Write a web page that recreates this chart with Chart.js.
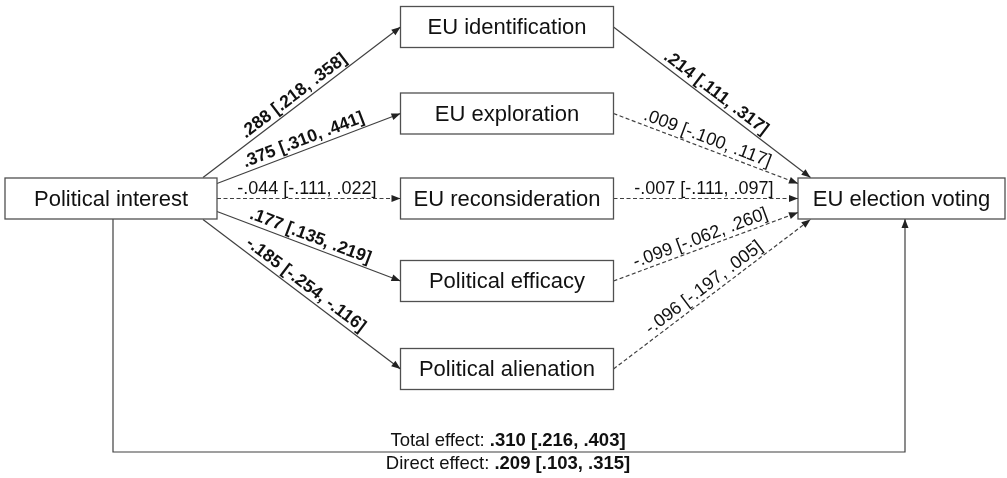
<!DOCTYPE html>
<html>
<head>
<meta charset="utf-8">
<script src="https://cdn.jsdelivr.net/npm/chart.js@4/dist/chart.umd.min.js"></script>
<style>
  html, body { margin: 0; padding: 0; background: #fff; }
  canvas { display: block; }
</style>
</head>
<body>
<canvas id="diagram" width="1007" height="478"></canvas>
<script>
// path model data
const predictor = 'Political interest';
const mediators = ['EU identification', 'EU exploration', 'EU reconsideration', 'Political efficacy', 'Political alienation'];
const outcome = 'EU election voting';

// a paths: predictor -> mediator
const aEst  = [0.288, 0.375, -0.044, 0.177, -0.185];
const aLow  = [0.218, 0.310, -0.111, 0.135, -0.254];
const aHigh = [0.358, 0.441, 0.022, 0.219, -0.116];

// b paths: mediator -> outcome (as printed)
const bEst  = [0.214, 0.009, -0.007, -0.099, -0.096];
const bLow  = [0.111, -0.100, -0.111, -0.062, -0.197];
const bHigh = [0.317, 0.117, 0.097, 0.260, 0.005];

const totalEffect  = [0.310, 0.216, 0.403];
const directEffect = [0.209, 0.103, 0.315];

// layout (diagram units = pixels of the 1007x478 page)
const colX = { left: 111, mid: 507, right: 901.5 };
const midRowY = [27, 113.5, 198.5, 281, 369];
const boxH = 41;
const boxW = { left: 212, mid: 213, right: 207 };
const startOffsets = [[92, -21], [106, -15], [106, 0], [106, 13], [92, 21]];
const endOffsets = [[-91, -21], [-103.5, -15], [-103.5, 0], [-103.5, 14], [-91, 21]];
const loopY = 452;
const loopStartX = 113;
const loopEndX = 905;

const fmt = v => v.toFixed(3).replace(/^(-?)0\./, '$1.');
const pathText = (e, l, h) => fmt(e) + ' [' + fmt(l) + ', ' + fmt(h) + ']';
const isSig = (l, h) => (l > 0 && h > 0) || (l < 0 && h < 0);

const LINE = '#404040';
const rowY = 198.5;
const FONT = '"Liberation Sans", Arial, sans-serif';

const nodes = [{ name: predictor, x: colX.left, y: rowY, w: boxW.left }]
  .concat(mediators.map((m, i) => ({ name: m, x: colX.mid, y: midRowY[i], w: boxW.mid })))
  .concat([{ name: outcome, x: colX.right, y: rowY, w: boxW.right }]);

const edges = [];
mediators.forEach((m, i) => {
  edges.push({
    from: [colX.left + startOffsets[i][0], rowY + startOffsets[i][1]],
    to: [colX.mid - boxW.mid / 2, midRowY[i]],
    text: pathText(aEst[i], aLow[i], aHigh[i]),
    sig: isSig(aLow[i], aHigh[i])
  });
});
mediators.forEach((m, i) => {
  edges.push({
    from: [colX.mid + boxW.mid / 2, midRowY[i]],
    to: [colX.right + endOffsets[i][0], rowY + endOffsets[i][1]],
    text: pathText(bEst[i], bLow[i], bHigh[i]),
    sig: isSig(bLow[i], bHigh[i])
  });
});

const datasets = edges.map(e => ({
  type: 'line',
  data: [{ x: e.from[0], y: e.from[1] }, { x: e.to[0], y: e.to[1] }],
  borderColor: LINE,
  borderWidth: 1.2,
  borderDash: e.sig ? [] : [4, 2.5],
  pointRadius: 0,
  arrow: true,
  label: e.text,
  bold: e.sig
}));

// total / direct effect connector
datasets.push({
  type: 'line',
  data: [
    { x: loopStartX, y: rowY + boxH / 2 },
    { x: loopStartX, y: loopY },
    { x: loopEndX, y: loopY },
    { x: loopEndX, y: rowY + boxH / 2 }
  ],
  borderColor: LINE,
  borderWidth: 1.2,
  pointRadius: 0,
  arrow: true
});

const diagramPlugin = {
  id: 'diagram',
  beforeDatasetsDraw(chart) {
    const { ctx } = chart;
    ctx.save();
    ctx.fillStyle = '#fff';
    ctx.fillRect(0, 0, chart.width, chart.height);
    ctx.restore();
  },
  afterDatasetsDraw(chart) {
    const { ctx, scales: { x, y } } = chart;
    ctx.save();
    // boxes
    nodes.forEach(n => {
      const l = x.getPixelForValue(n.x - n.w / 2);
      const r = x.getPixelForValue(n.x + n.w / 2);
      const t = y.getPixelForValue(n.y - boxH / 2);
      const b = y.getPixelForValue(n.y + boxH / 2);
      ctx.fillStyle = '#fff';
      ctx.fillRect(l, t, r - l, b - t);
      ctx.strokeStyle = '#505050';
      ctx.lineWidth = 1.3;
      ctx.strokeRect(l, t, r - l, b - t);
      ctx.fillStyle = '#111';
      ctx.font = '22px ' + FONT;
      ctx.textAlign = 'center';
      ctx.textBaseline = 'middle';
      ctx.fillText(n.name, (l + r) / 2, (t + b) / 2 + 1);
    });

    // arrowheads and path labels
    chart.data.datasets.forEach(ds => {
      const pts = ds.data;
      const p1 = pts[pts.length - 2], p2 = pts[pts.length - 1];
      const x1 = x.getPixelForValue(p1.x), y1 = y.getPixelForValue(p1.y);
      const x2 = x.getPixelForValue(p2.x), y2 = y.getPixelForValue(p2.y);
      const ang = Math.atan2(y2 - y1, x2 - x1);
      if (ds.arrow) {
        ctx.save();
        ctx.translate(x2, y2);
        ctx.rotate(ang);
        ctx.fillStyle = '#222';
        ctx.beginPath();
        ctx.moveTo(0, 0);
        ctx.lineTo(-9, -3.5);
        ctx.lineTo(-9, 3.5);
        ctx.closePath();
        ctx.fill();
        ctx.restore();
      }
      if (ds.label) {
        // label sits on the line, baseline just above it
        const mx = x1 + (x2 - x1) * 0.49;
        const my = y1 + (y2 - y1) * 0.49;
        ctx.save();
        ctx.translate(mx, my);
        ctx.rotate(ang);
        ctx.fillStyle = '#111';
        ctx.font = (ds.bold ? 'bold 17.5px ' : '18px ') + FONT;
        ctx.textAlign = 'center';
        ctx.textBaseline = 'alphabetic';
        ctx.fillText(ds.label, 0, -5);
        ctx.restore();
      }
    });

    // effect captions, regular prefix + bold estimate
    const caption = (prefix, vals, cy) => {
      const reg = '18.5px ' + FONT;
      const bld = 'bold 18.5px ' + FONT;
      const val = pathText(vals[0], vals[1], vals[2]);
      ctx.font = reg; const w1 = ctx.measureText(prefix).width;
      ctx.font = bld; const w2 = ctx.measureText(val).width;
      const cx = x.getPixelForValue((loopStartX + loopEndX) / 2 - 1);
      const sx = cx - (w1 + w2) / 2;
      ctx.textAlign = 'left';
      ctx.textBaseline = 'middle';
      ctx.fillStyle = '#111';
      ctx.font = reg; ctx.fillText(prefix, sx, y.getPixelForValue(cy));
      ctx.font = bld; ctx.fillText(val, sx + w1, y.getPixelForValue(cy));
    };
    caption('Total effect: ', totalEffect, loopY - 11);
    caption('Direct effect: ', directEffect, loopY + 12);
    ctx.restore();
  }
};

new Chart(document.getElementById('diagram'), {
  type: 'scatter',
  data: { datasets },
  options: {
    responsive: false,
    animation: false,
    layout: { padding: 0 },
    plugins: { legend: { display: false }, tooltip: { enabled: false } },
    scales: {
      x: { type: 'linear', min: 0, max: 1007, display: false },
      y: { type: 'linear', min: 0, max: 478, reverse: true, display: false }
    }
  },
  plugins: [diagramPlugin]
});
</script>
</body>
</html>
